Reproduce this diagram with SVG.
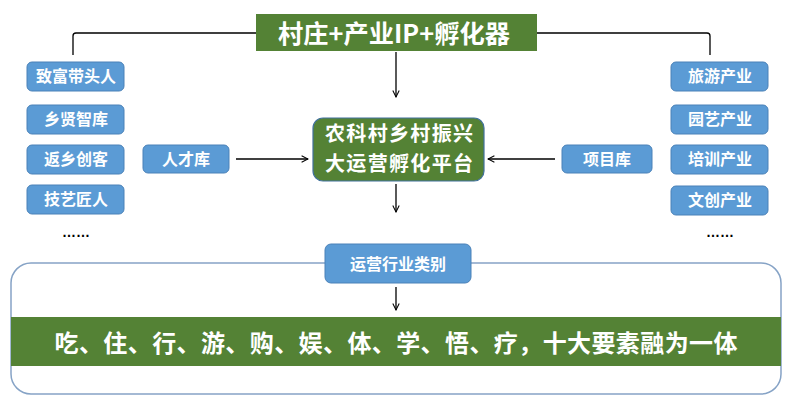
<svg xmlns="http://www.w3.org/2000/svg" width="792" height="405" viewBox="0 0 792 405">
<defs>
<style>
.b{fill:#5b9bd5;stroke:#4a81b8;stroke-width:1}
.t{fill:#fff;font-family:"Noto Sans CJK SC","Noto Sans",sans-serif;font-weight:bold;text-anchor:middle}
.s{font-size:16px}
.ln{fill:none;stroke:#000;stroke-width:1.3}
.dots{fill:#000;font-family:"Liberation Sans",sans-serif;font-size:14px;font-weight:bold;text-anchor:middle}
</style>
<marker id="ah" viewBox="0 0 10 10" refX="9" refY="5" markerWidth="8" markerHeight="8" markerUnits="userSpaceOnUse" orient="auto">
<path d="M1,1 L9,5 L1,9" fill="none" stroke="#000" stroke-width="1.3"/>
</marker>
</defs>
<rect width="792" height="405" fill="#fff"/>
<g id="container">
<rect x="11" y="263" width="770" height="131" rx="20" fill="#fff" stroke="#86a3c6" stroke-width="1.5"/>
</g>
<g id="connectors">
<path class="ln" d="M73,55 V36 Q73,33 76,33 H256"/>
<path class="ln" d="M537,33 H707 Q710,33 710,36 V55"/>
<line class="ln" x1="396" y1="52" x2="396" y2="97" marker-end="url(#ah)"/>
<line class="ln" x1="236" y1="159" x2="308" y2="159" marker-end="url(#ah)"/>
<line class="ln" x1="555" y1="159" x2="488" y2="159" marker-end="url(#ah)"/>
<line class="ln" x1="396" y1="184" x2="396" y2="212" marker-end="url(#ah)"/>
<line class="ln" x1="396" y1="287" x2="396" y2="310" marker-end="url(#ah)"/>
</g>
<g id="title">
<rect x="256" y="14" width="281" height="37" fill="#548235"/>
<text class="t" x="394" y="43" font-size="25" textLength="232" lengthAdjust="spacingAndGlyphs">村庄+产业IP+孵化器</text>
</g>
<g id="left1"><rect class="b" x="27" y="62" width="97" height="29" rx="5"/><text class="t s" x="76" y="82">致富带头人</text></g>
<g id="left2"><rect class="b" x="27" y="105" width="97" height="29" rx="5"/><text class="t s" x="76" y="125">乡贤智库</text></g>
<g id="left3"><rect class="b" x="27" y="145" width="97" height="29" rx="5"/><text class="t s" x="76" y="165">返乡创客</text></g>
<g id="left4"><rect class="b" x="27" y="185" width="97" height="29" rx="5"/><text class="t s" x="76" y="205">技艺匠人</text></g>
<g id="left-more"><text class="dots" x="76" y="237">……</text></g>
<g id="right1"><rect class="b" x="671" y="62" width="97" height="29" rx="5"/><text class="t s" x="720" y="82">旅游产业</text></g>
<g id="right2"><rect class="b" x="671" y="105" width="97" height="29" rx="5"/><text class="t s" x="720" y="125">园艺产业</text></g>
<g id="right3"><rect class="b" x="671" y="145" width="97" height="29" rx="5"/><text class="t s" x="720" y="165">培训产业</text></g>
<g id="right4"><rect class="b" x="671" y="186" width="97" height="29" rx="5"/><text class="t s" x="720" y="206">文创产业</text></g>
<g id="right-more"><text class="dots" x="720" y="237">……</text></g>
<g id="talent"><rect class="b" x="143" y="145" width="86" height="28" rx="5"/><text class="t s" x="186" y="165">人才库</text></g>
<g id="project"><rect class="b" x="562" y="145" width="90" height="28" rx="5"/><text class="t s" x="607" y="165">项目库</text></g>
<g id="center">
<rect x="313" y="118" width="171" height="63" rx="10" fill="#548235" stroke="#41719c" stroke-width="1.2"/>
<text class="t" font-size="20"><tspan x="399" y="141" textLength="148">农科村乡村振兴</tspan><tspan x="399" y="171" textLength="148">大运营孵化平台</tspan></text>
</g>
<g id="category"><rect class="b" x="325" y="244" width="146" height="39" rx="6"/><text class="t s" x="398" y="270">运营行业类别</text></g>
<g id="band">
<rect x="11" y="317" width="770" height="49" fill="#548235"/>
<text class="t" x="396" y="352" font-size="24" textLength="683" lengthAdjust="spacing">吃、住、行、游、购、娱、体、学、悟、疗，十大要素融为一体</text>
</g>
</svg>
